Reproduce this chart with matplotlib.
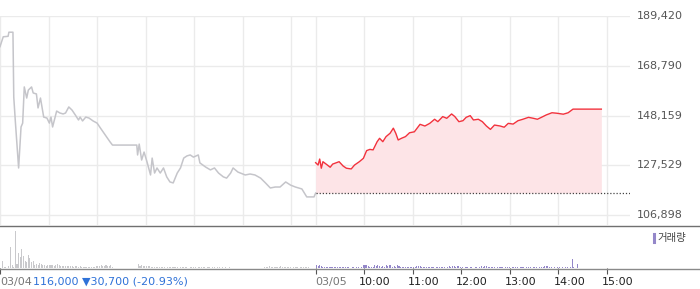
import matplotlib
matplotlib.use("Agg")
import matplotlib.pyplot as plt
from matplotlib.lines import Line2D
import matplotlib.transforms as mtransforms

# ---------------- data ----------------
day1_times = ["09:00","09:04","09:10","09:11","09:16","09:17","09:19","09:23","09:26","09:28",
              "09:30","09:33","09:35","09:39","09:41","09:45","09:47","09:50","09:54","09:58",
              "10:01","10:03","10:05","10:10","10:14","10:18","10:21","10:25","10:29","10:33",
              "10:37","10:39","10:42","10:46","10:50","10:55","11:00","11:04","11:10","11:16",
              "11:19","11:49","11:50","11:52","11:55","11:58","12:02","12:06","12:08","12:11",
              "12:14","12:18","12:22","12:26","12:30","12:34","12:39","12:43","12:47","12:51",
              "12:55","12:59","13:05","13:07","13:14","13:20","13:25","13:30","13:36","13:40",
              "13:45","13:48","13:54","13:57","14:03","14:09","14:15","14:22","14:28","14:34",
              "14:40","14:46","14:53","14:59","15:05","15:13","15:19","15:28","15:30"]
day1_prices = [176700,180800,181000,182700,182700,155800,145500,126400,143400,145000,
               160000,155400,158700,160000,157500,157100,151300,155400,147500,147100,
               145000,147500,143400,150000,149200,148800,149200,151700,150400,148400,
               146300,147500,145900,147500,147100,145900,145000,143000,140100,137200,
               135900,135900,131800,136300,129700,133000,128500,123500,130500,124300,
               126400,124300,126400,122700,120600,120200,124300,126400,130500,131400,
               131800,130900,131800,128500,126800,125600,126400,124300,122700,122200,
               124300,126400,124700,124300,123500,123900,123500,122200,120200,118100,
               118500,118500,120600,119300,118500,117700,114400,114400,116000]

day2_times = ["09:00","09:03","09:05","09:07","09:09","09:13","09:18","09:21","09:29","09:34",
              "09:38","09:44","09:48","09:54","09:59","10:03","10:07","10:11","10:16","10:19",
              "10:23","10:27","10:32","10:36","10:39","10:42","10:46","10:51","10:56","11:02",
              "11:09","11:15","11:21","11:27","11:31","11:37","11:42","11:48","11:52","11:57",
              "12:02","12:06","12:11","12:15","12:21","12:26","12:31","12:36","12:41","12:48",
              "12:53","12:58","13:04","13:10","13:16","13:23","13:29","13:34","13:39","13:45",
              "13:52","13:58","14:06","14:12","14:18","14:53"]
day2_prices = [128600,127600,130100,126300,129000,128000,126700,128000,129000,127200,
               126300,126000,127600,129000,130400,133600,134100,133900,137300,138700,
               137300,139400,140800,142900,140800,138000,138700,139400,141000,141400,
               144500,143800,144900,146600,145600,147700,147000,148800,147700,145600,
               146000,147400,148100,146300,146600,145600,143800,142400,144200,143800,
               143300,144900,144600,146000,146600,147400,147000,146600,147400,148400,
               149300,149100,148700,149300,150800,150800]

prev_close = 116000
y_ticks = [106898, 127529, 148159, 168790, 189420]

# volume per 2-minute bin (thousand shares), from 09:00
day1_volume = [0,67,15,10,0,20,207,30,15,367,40,150,110,193,123,73,60,133,100,57,
               73,35,40,30,50,45,
               30,35,25,30,35,28,30,25,30,40,30,
               20,25,18,20,22,20,18,20,15,20,18,15,20,
               10,12,10,8,10,10,8,10,
               15,20,25,20,30,25,20,30,25,20,30,15,
               0,0,0,0,0,0,0,0,0,0,0,0,0,0,0,
               43,25,30,20,25,20,18,
               17,15,12,15,10,12,10,15,12,10,0,10,12,10,8,10,12,10,0,10,10,8,12,10,0,10,8,10,12,0,10,10,8,10,
               10,0,10,8,0,10,10,0,8,10,0,10,0,8,0,10,0,0,
               0,0,0,0,0,0,0,0,0,0,0,0,0,0,0,0,0,0,0,
               10,15,12,20,15,10,15,12,10,15,18,12,10,15,10,12,10,0,10,12,10,0,10,10,12,10,15,10,
               5,0,0,0]
day2_volume = [30,25,30,20,
               10,8,10,10,12,10,8,10,10,10,8,10,10,12,10,10,
               7,0,7,7,0,8,7,0,7,
               30,28,30,25,
               13,12,13,
               27,25,28,
               17,15,18,15,
               27,25,27,28,
               15,17,15,
               27,20,
               15,13,
               10,10,8,10,10,10,8,10,
               23,20,25,
               10,10,8,10,10,12,10,10,0,10,10,8,10,10,10,0,10,
               17,15,18,17,15,17,18,15,
               7,0,7,7,0,7,8,0,7,7,0,7,
               17,15,17,18,15,10,15,
               7,7,0,7,7,
               10,7,0,8,10,7,0,7,10,8,7,0,10,7,8,0,7,10,7,0,8,7,10,0,7,8,10,
               20,18,20,15,
               7,0,7,0,8,7,0,7,0,7,8,0,
               7,90,7,0,40]

x_tick_labels = ["10:00","11:00","12:00","13:00","14:00","15:00"]
date1, date2 = "03/04", "03/05"
summary = "116,000 \u25bc30,700 (-20.93%)"
legend_label = "거래량"

# ---------------- helpers ----------------
W, H = 700, 289
SESSION = 390  # minutes 09:00-15:30


def tmin(s, day):
    h, m = s.split(":")
    return day * SESSION + int(h) * 60 + int(m) - 540


def fx(px):
    return px / W


def fy(py):
    return 1 - py / H


PPM = 607 / 750.0  # pixels per minute
XMAX = 630 / PPM

t1 = [tmin(s, 0) for s in day1_times]
t2 = [tmin(s, 1) for s in day2_times]

fig = plt.figure(figsize=(7, 2.89), dpi=100)

# ---------------- price panel ----------------
ax = fig.add_axes([0, fy(225), fx(630), (225 - 16) / H])
per_px = (y_ticks[-1] - y_ticks[0]) / (215 - 16)
ax.set_xlim(0, XMAX)
ax.set_ylim(y_ticks[0] - 10 * per_px, y_ticks[-1])
grid_x = [0, 60, 120, 180, 240, 300, 360, 390, 450, 510, 570, 630, 690, 750]
ax.set_xticks(grid_x)
ax.set_yticks(y_ticks)
ax.grid(True, color="#ebebeb", lw=1)
ax.tick_params(length=0, labelbottom=False, labelleft=False)
for sp in ax.spines.values():
    sp.set_visible(False)

ax.plot(t1, day1_prices, color="#c5c5ca", lw=1.1, zorder=3)
ax.fill_between(t2, day2_prices, prev_close, color="#fde4e7", lw=0, zorder=2)
ax.plot(t2, day2_prices, color="#f2323d", lw=1.0, zorder=4)
ax.plot([SESSION, XMAX], [prev_close, prev_close], color="#444444",
        lw=0.9, ls=(0, (1, 1.5)), zorder=3)

blend = mtransforms.blended_transform_factory(fig.transFigure, ax.transData)
for v in y_ticks:
    ax.text(fx(683), v, f"{v:,}", transform=blend, ha="right", va="center",
            fontsize=8, color="#555555", clip_on=False)

# ---------------- volume panel ----------------
vax = fig.add_axes([0, fy(268), fx(630), (268 - 226) / H])
vax.set_xlim(0, XMAX)
vax.set_ylim(0, 420)
b1 = [2 * i + 1 for i in range(len(day1_volume))]
b2 = [SESSION + 2 * i + 1 for i in range(len(day2_volume))]
vax.bar(b1, day1_volume, width=1.3, color="#c9c9cc", lw=0)
vax.bar(b2, day2_volume, width=1.3, color="#9487c9", lw=0)
tick_x = [0, 390, 450, 510, 570, 630, 690, 750]
vax.set_xticks(tick_x)
vax.set_yticks([])
vax.tick_params(axis="x", length=4.5, width=0.8, color="#555555",
                direction="out", labelbottom=False)
for sp in vax.spines.values():
    sp.set_visible(False)

# full-width separators
fig.add_artist(Line2D([0, 1], [fy(225.5), fy(225.5)], color="#707070", lw=1.0))
fig.add_artist(Line2D([0, 1], [fy(268.5), fy(268.5)], color="#8a8a8a", lw=1.0))

# legend
fig.add_artist(Line2D([fx(654), fx(654)], [fy(234), fy(242)], color="#9487c9", lw=2.2))
fig.text(fx(657), fy(238), legend_label, ha="left", va="center", fontsize=7.5,
         color="#444444", family=["Noto Sans CJK KR", "DejaVu Sans"])

# bottom labels
ly = fy(282)
fig.text(fx(0), ly, date1, ha="left", va="center", fontsize=8, color="#777777")
fig.text(fx(33), ly, summary, ha="left", va="center", fontsize=8, color="#2f72d8")
fig.text(fx(SESSION * PPM), ly, date2, ha="left", va="center", fontsize=8, color="#777777")
for m, lab in zip(tick_x[2:], x_tick_labels):
    fig.text(fx(m * PPM - 5), ly, lab, ha="left", va="center", fontsize=8, color="#222222")

fig.savefig("out.png", dpi=100)
